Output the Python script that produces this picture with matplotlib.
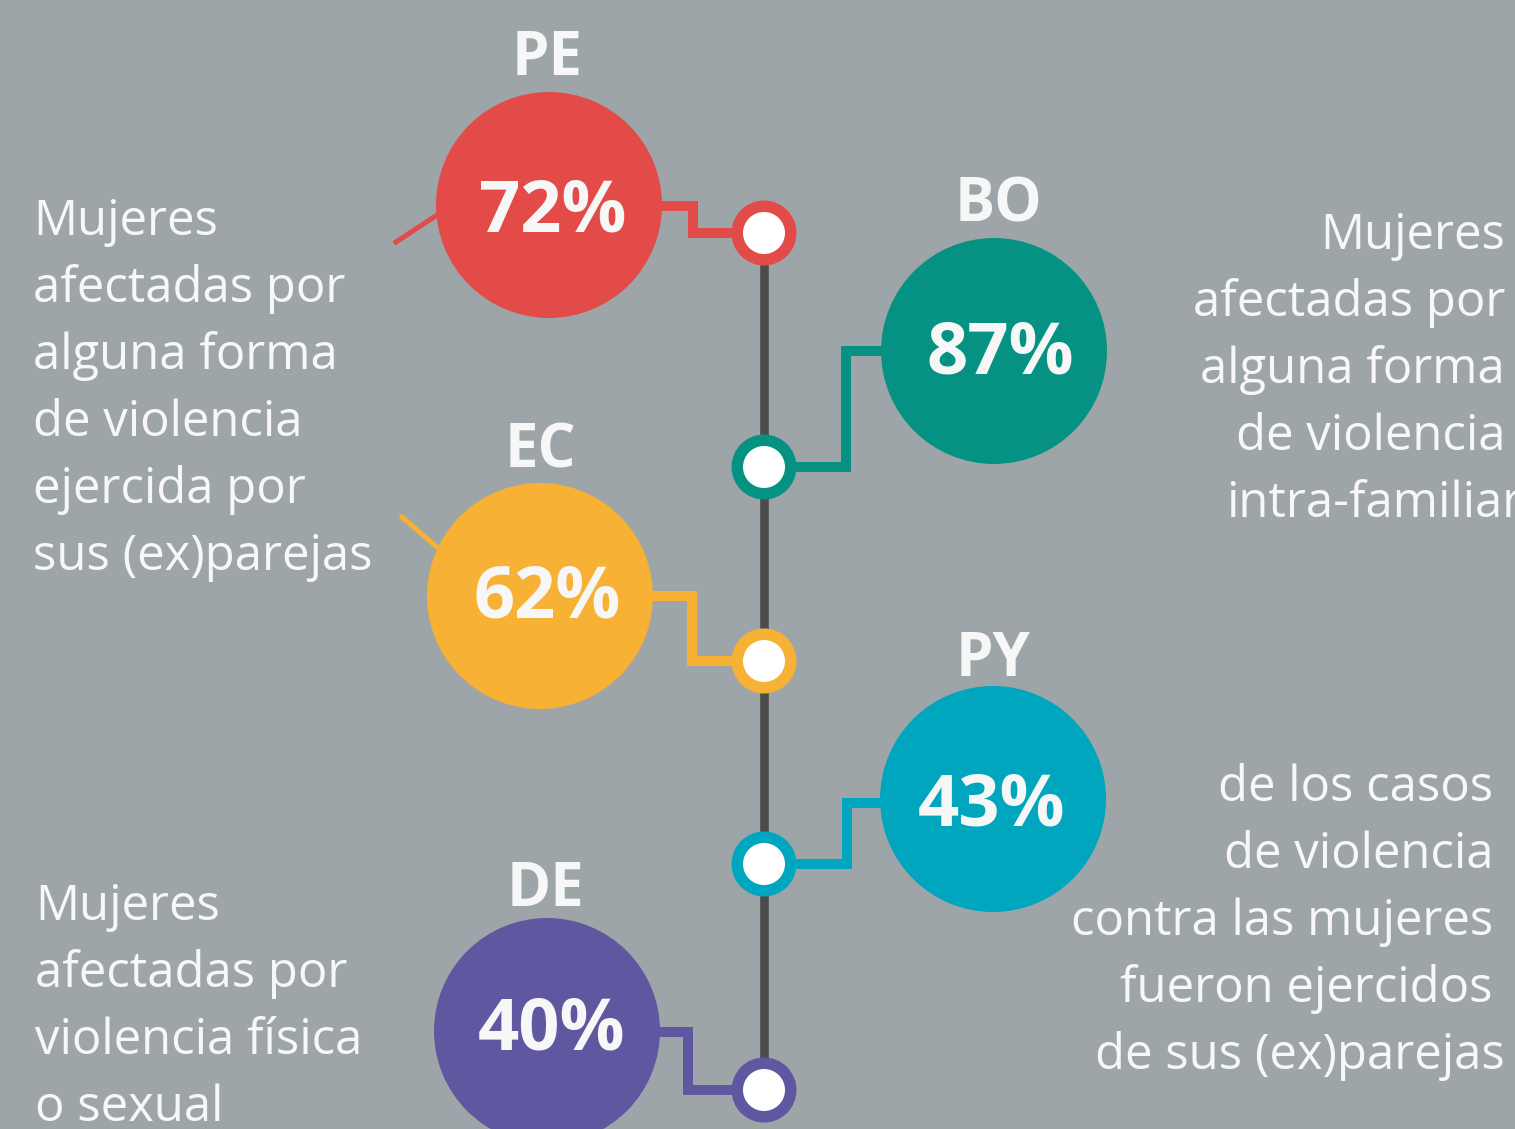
import matplotlib.pyplot as plt
from matplotlib.patches import Circle

OUTPUT_IMAGE = "out.png"

# data
countries = ["PE", "BO", "EC", "PY", "DE"]
percentages = [72, 87, 62, 43, 40]
colors = ["#E24B47", "#059282", "#F7B134", "#00A6BD", "#5F58A0"]

left_top_lines = ["Mujeres", "afectadas por", "alguna forma", "de violencia",
                  "ejercida por", "sus (ex)parejas"]
right_top_lines = ["Mujeres", "afectadas por", "alguna forma", "de violencia",
                   "intra-familiar"]
right_bottom_lines = ["de los casos", "de violencia", "contra las mujeres",
                      "fueron ejercidos", "de sus (ex)parejas"]
left_bottom_lines = ["Mujeres", "afectadas por", "violencia física", "o sexual"]

# layout (pixel coordinates, y grows downward)
BG = "#9EA5A8"
TXT = "#F7F7F7"
SPINE_X = 764
R_BIG = 113
circle_xy = [(549, 205), (994, 351), (540, 596), (993, 799), (547, 1031)]
node_y = [233, 467, 661, 864, 1090]
elbow_x = [693, 846, 692, 847, 688]
stub_y = [206, 351, 596, 803, 1032]
label_baseline = [75, 221, 468, 676, 906]
label_x = [547, 998, 540, 993, 546]
pct_x = [553, 1000, 547, 992, 552]
pct_baseline = [232, 373, 618, 825, 1050]


def draw():
    fig = plt.figure(figsize=(15.15, 11.29), dpi=100)
    fig.patch.set_facecolor(BG)
    ax = fig.add_axes([0, 0, 1, 1])
    ax.set_xlim(0, 1515)
    ax.set_ylim(1129, 0)
    ax.axis("off")
    ax.set_facecolor(BG)

    # central line
    ax.plot([SPINE_X, SPINE_X], [node_y[0], node_y[-1]], color="#4B4B4B",
            lw=6.2, solid_capstyle="butt", zorder=1)

    # pointer lines towards the left text
    ax.plot([396, 437], [242, 215], color=colors[0], lw=3.6, zorder=1)
    ax.plot([402, 438], [517, 548], color=colors[2], lw=3.6, zorder=1)

    for i, c in enumerate(countries):
        cx, cy = circle_xy[i]
        col = colors[i]
        side = 1 if cx > SPINE_X else -1
        edge_x = cx - side * R_BIG
        # elbow connector
        ax.plot([edge_x, elbow_x[i], elbow_x[i], SPINE_X],
                [stub_y[i], stub_y[i], node_y[i], node_y[i]],
                color=col, lw=7.2, solid_joinstyle="miter", zorder=2)
        ax.add_patch(Circle((cx, cy), R_BIG, color=col, lw=0, zorder=3))
        ax.add_patch(Circle((SPINE_X, node_y[i]), 32.5, color=col, lw=0, zorder=4))
        ax.add_patch(Circle((SPINE_X, node_y[i]), 21, color="white", lw=0, zorder=5))

        ax.text(label_x[i], label_baseline[i], c, ha="center", va="baseline",
                fontsize=43, fontweight="bold", family="Open Sans", color=TXT,
                zorder=6)
        ax.text(pct_x[i], pct_baseline[i], f"{percentages[i]}%", ha="center",
                va="baseline", fontsize=52, fontweight="bold", family="Open Sans",
                color=TXT, zorder=6)

    txt_kw = dict(fontsize=35.3, family="Open Sans", color=TXT, va="baseline",
                  zorder=6)
    step = 67

    for k, line in enumerate(left_top_lines):
        ax.text(33, 235 + k * step, line, ha="left", **txt_kw)
    for k, line in enumerate(left_bottom_lines):
        ax.text(35, 920 + k * step, line, ha="left", **txt_kw)
    for k, line in enumerate(right_top_lines):
        xr = 1522 if k == len(right_top_lines) - 1 else 1505
        ax.text(xr, 249 + k * step, line, ha="right", **txt_kw)
    for k, line in enumerate(right_bottom_lines):
        xr = 1505 if k == len(right_bottom_lines) - 1 else 1493
        ax.text(xr, 801 + k * step, line, ha="right", **txt_kw)

    fig.savefig(OUTPUT_IMAGE, dpi=100, facecolor=BG)


if __name__ == "__main__":
    draw()
